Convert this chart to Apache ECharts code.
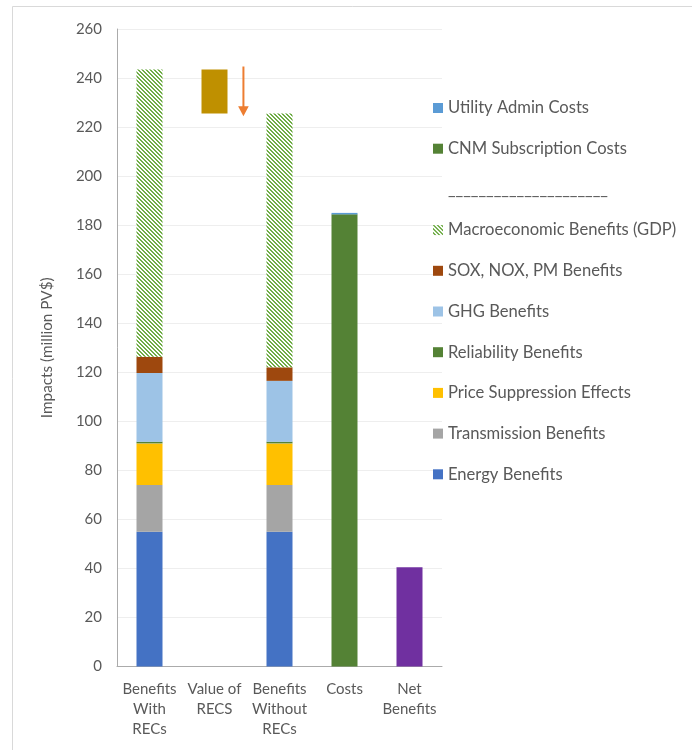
<!DOCTYPE html>
<html>
<head>
<meta charset="utf-8">
<title>Benefits and Costs</title>
<script src="https://cdn.jsdelivr.net/npm/echarts@6/dist/echarts.min.js"></script>
<style>
  html, body { margin: 0; padding: 0; background: #ffffff; }
  #chart { width: 692px; height: 750px; }
</style>
</head>
<body>
<div id="chart"></div>
<script>
// Categories along the horizontal axis
const categories = ['Benefits\nWith\nRECs', 'Value of\nRECS', 'Benefits\nWithout\nRECs', 'Costs', 'Net\nBenefits'];

// Stacked components (million PV$), one value per category; null where absent
const energyBenefits       = [55,    null,  55,    null,  null];
const transmissionBenefits = [19,    null,  19,    null,  null];
const priceSuppression     = [17,    null,  17,    null,  null];
const reliabilityBenefits  = [0.7,   null,  0.7,   null,  null];
const ghgBenefits          = [28,    null,  24.8,  null,  null];
const soxNoxPmBenefits     = [6.6,   null,  5.5,   null,  null];
const macroeconomicGdp     = [117.2, null,  103.5, null,  null];
const recsBase             = [null,  225.5, null,  null,  null];
const recsValue            = [null,  18,    null,  null,  null];
const cnmSubscription      = [null,  null,  null,  184.4, null];
const utilityAdmin         = [null,  null,  null,  0.6,   null];
const netBenefits          = [null,  null,  null,  null,  40.5];

// Value-axis ticks
const yTicks = { min: 0, max: 260, interval: 20 };

// Arrow showing the drop from REC value (million PV$)
const arrowFrom = [244.7];
const arrowTo   = [224.4];

const separatorName = '_____________________';

const textColor = '#595959';
const fontFamily = 'Lato, "Open Sans", sans-serif';

// Diagonal green hatch used for the GDP component
function makeHatch() {
  const c = document.createElement('canvas');
  c.width = 4; c.height = 4;
  const g = c.getContext('2d');
  g.fillStyle = '#ffffff';
  g.fillRect(0, 0, 4, 4);
  g.fillStyle = '#70AD47';
  for (let i = 0; i < 4; i++) {
    g.fillRect(i, i, 1, 1);
    g.fillRect((i + 1) % 4, i, 1, 1);
  }
  return c;
}
const hatch = { image: makeHatch(), repeat: 'repeat' };

function barSeries(name, data, color, extra) {
  return Object.assign({
    name: name,
    type: 'bar',
    stack: 'total',
    data: data,
    barWidth: 26,
    itemStyle: { color: color },
    emphasis: { disabled: true }
  }, extra || {});
}

const chart = echarts.init(document.getElementById('chart'), null, { renderer: 'canvas' });

const option = {
  animation: false,
  backgroundColor: '#ffffff',
  textStyle: { fontFamily: fontFamily, color: textColor },
  grid: { left: 117, right: 250, top: 29, bottom: 83.5, containLabel: false },
  legend: {
    orient: 'vertical',
    left: 433,
    top: 98,
    padding: 0,
    icon: 'rect',
    itemWidth: 10,
    itemHeight: 10,
    itemGap: 20.7,
    selectedMode: false,
    textStyle: { fontFamily: fontFamily, fontSize: 16.6, color: textColor, lineHeight: 20 },
    data: [
      { name: 'Utility Admin Costs' },
      { name: 'CNM Subscription Costs' },
      { name: separatorName, itemStyle: { opacity: 0 } },
      { name: 'Macroeconomic Benefits (GDP)' },
      { name: 'SOX, NOX, PM Benefits' },
      { name: 'GHG Benefits' },
      { name: 'Reliability Benefits' },
      { name: 'Price Suppression Effects' },
      { name: 'Transmission Benefits' },
      { name: 'Energy Benefits' }
    ]
  },
  xAxis: {
    type: 'category',
    data: categories,
    axisTick: { show: false },
    axisLine: { lineStyle: { color: '#ABABAB', width: 1 } },
    axisLabel: { color: textColor, fontSize: 15, lineHeight: 20, margin: 13, interval: 0 }
  },
  yAxis: {
    type: 'value',
    min: yTicks.min,
    max: yTicks.max,
    interval: yTicks.interval,
    name: 'Impacts (million PV$)',
    nameLocation: 'middle',
    nameGap: 62,
    nameTextStyle: { color: textColor, fontSize: 15.3 },
    axisLine: { show: true, lineStyle: { color: '#ABABAB', width: 1 } },
    axisTick: { show: false },
    axisLabel: { color: textColor, fontSize: 15, margin: 15 },
    splitLine: { lineStyle: { color: '#EEEEEE', width: 1 } }
  },
  series: [
    barSeries('Energy Benefits', energyBenefits, '#4472C4'),
    barSeries('Transmission Benefits', transmissionBenefits, '#A5A5A5'),
    barSeries('Price Suppression Effects', priceSuppression, '#FFC000'),
    barSeries('Reliability Benefits', reliabilityBenefits, '#548235'),
    barSeries('GHG Benefits', ghgBenefits, '#9DC3E6'),
    barSeries('SOX, NOX, PM Benefits', soxNoxPmBenefits, '#9E480E'),
    barSeries('Macroeconomic Benefits (GDP)', macroeconomicGdp, hatch),
    barSeries(separatorName, [], 'rgba(0,0,0,0)'),
    barSeries('recsBase', recsBase, 'rgba(0,0,0,0)'),
    barSeries('Value of RECs', recsValue, '#BF9000'),
    barSeries('CNM Subscription Costs', cnmSubscription, '#548235'),
    barSeries('Utility Admin Costs', utilityAdmin, '#5B9BD5'),
    barSeries('Net Benefits', netBenefits, '#7030A0')
  ]
};

chart.setOption(option);

// Arrow beside the REC bar, placed through the chart's own coordinate system
const pA = chart.convertToPixel({ xAxisIndex: 0, yAxisIndex: 0 }, [1, arrowFrom[0]]);
const pB = chart.convertToPixel({ xAxisIndex: 0, yAxisIndex: 0 }, [1, arrowTo[0]]);
const pNext = chart.convertToPixel({ xAxisIndex: 0, yAxisIndex: 0 }, [2, arrowTo[0]]);
const band = pNext[0] - pA[0];
const ax = pA[0] + band * 0.445;
const headLen = 10, headHalf = 5.3;

chart.setOption({
  graphic: [
    {
      type: 'rect',
      silent: true,
      shape: { x: 12.5, y: 6.5, width: 720, height: 780 },
      style: { fill: 'none', stroke: '#D9D9D9', lineWidth: 1 },
      z: -10
    },
    {
      type: 'line',
      silent: true,
      shape: { x1: ax, y1: pA[1], x2: ax, y2: pB[1] - headLen + 1 },
      style: { stroke: '#ED7D31', lineWidth: 2 },
      z: 100
    },
    {
      type: 'polygon',
      silent: true,
      shape: { points: [[ax - headHalf, pB[1] - headLen], [ax + headHalf, pB[1] - headLen], [ax, pB[1]]] },
      style: { fill: '#ED7D31' },
      z: 100
    }
  ]
});
</script>
</body>
</html>
